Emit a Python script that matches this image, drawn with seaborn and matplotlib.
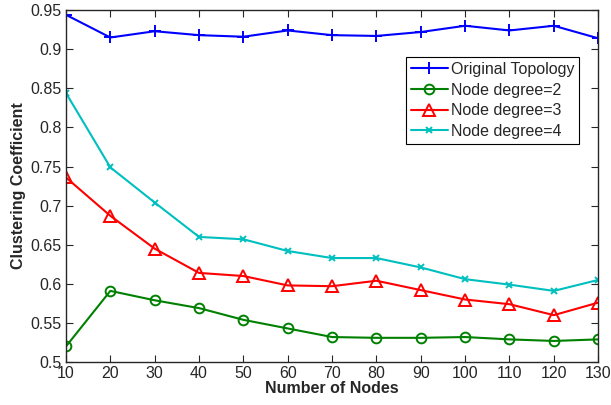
import pandas as pd
import matplotlib
matplotlib.use("Agg")
import matplotlib.pyplot as plt
import seaborn as sns

nodes = [10, 20, 30, 40, 50, 60, 70, 80, 90, 100, 110, 120, 130]
original = [0.944, 0.915, 0.923, 0.918, 0.916, 0.924, 0.918, 0.917, 0.922, 0.930, 0.924, 0.930, 0.914]
degree2 = [0.520, 0.591, 0.579, 0.569, 0.554, 0.543, 0.532, 0.531, 0.531, 0.532, 0.529, 0.527, 0.529]
degree3 = [0.736, 0.687, 0.645, 0.614, 0.610, 0.598, 0.597, 0.604, 0.592, 0.580, 0.574, 0.560, 0.576]
degree4 = [0.844, 0.749, 0.704, 0.660, 0.657, 0.642, 0.633, 0.633, 0.621, 0.606, 0.599, 0.591, 0.605]

yticks = [0.5, 0.55, 0.6, 0.65, 0.7, 0.75, 0.8, 0.85, 0.9, 0.95]
ytick_labels = ['0.5', '0.55', '0.6', '0.65', '0.7', '0.75', '0.8', '0.85', '0.9', '0.95']

sns.set_style("ticks")
plt.rcParams['font.family'] = ['Liberation Sans', 'DejaVu Sans']
plt.rcParams['xtick.direction'] = 'in'
plt.rcParams['ytick.direction'] = 'in'

fig = plt.figure(figsize=(6.11, 4.05), dpi=100)
ax = fig.add_axes([0.108, 0.106, 0.871, 0.869])

series = [
    ('Original Topology', original, '#0000ff', '+', 9),
    ('Node degree=2', degree2, '#008000', 'o', 7),
    ('Node degree=3', degree3, '#ff0000', '^', 8),
    ('Node degree=4', degree4, '#00bfbf', 'x', 5),
]
for name, vals, col, mk, ms in series:
    sns.lineplot(x=nodes, y=vals, ax=ax, color=col, marker=mk, markersize=ms,
                 markerfacecolor='none', markeredgecolor=col, markeredgewidth=1.4,
                 linewidth=1.5, label=name)

ax.set_xlim(10, 130)
ax.set_ylim(0.5, 0.95)
ax.set_xticks(nodes)
ax.set_xticklabels([str(n) for n in nodes], fontsize=11.5)
ax.set_yticks(yticks)
ax.set_yticklabels(ytick_labels, fontsize=11.5)
ax.tick_params(top=True, right=True, length=5, width=0.8, pad=3)
for s in ax.spines.values():
    s.set_visible(True)
    s.set_linewidth(1.0)

ax.set_xlabel('Number of Nodes', fontsize=11.5, fontweight='bold', labelpad=0)
ax.set_ylabel('Clustering Coefficient', fontsize=11.5, fontweight='bold', labelpad=3)

leg = ax.legend(loc='upper right', bbox_to_anchor=(0.964, 0.866), fontsize=11.5,
                frameon=True, fancybox=False, edgecolor='black', framealpha=1,
                borderpad=0.3, labelspacing=0.35, handlelength=2.3, handletextpad=0.2,
                borderaxespad=0)
leg.get_frame().set_linewidth(0.8)

fig.savefig('out.png', dpi=100)
